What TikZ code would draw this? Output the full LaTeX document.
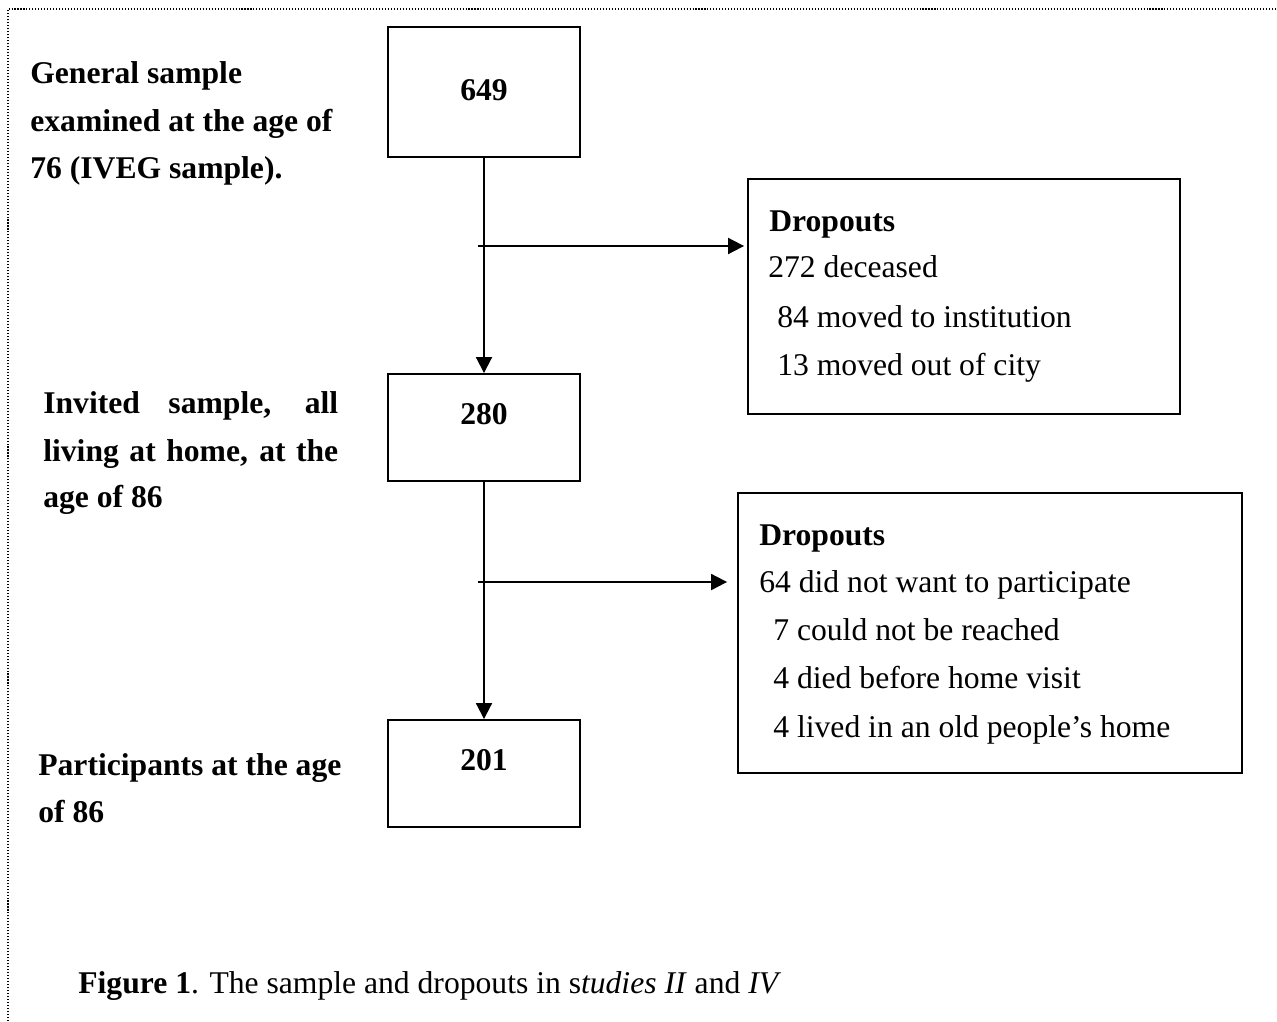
\documentclass[tikz,border=0pt]{standalone}
\usepackage{fontspec}
\setmainfont{Liberation Serif}
\usetikzlibrary{arrows.meta}
\begin{document}
\begin{tikzpicture}[x=0.02cm,y=-0.02cm,
  box/.style={draw,line width=1.1pt,inner sep=0pt,rectangle},
  txt/.style={anchor=base west,inner sep=0pt,font=\fontsize{18}{27}\selectfont},
  btxt/.style={txt,font=\fontsize{18}{27}\selectfont\bfseries},
  num/.style={anchor=base,inner sep=0pt,font=\fontsize{18}{27}\selectfont\bfseries},
  flow/.style={line width=1.1pt,-{Triangle[length=0.32cm,width=0.32cm]}}]
\useasboundingbox (0,0) rectangle (1277,1021);
% dotted frame (top and left edges)
\draw[line width=0.6pt,dash pattern=on 0.6pt off 1.1pt,black] (8,1021) -- (8,9) -- (1277,9);

% main boxes
\node[box,minimum width=3.84cm,minimum height=2.6cm] (b649) at (484,92) {};
\node[box,minimum width=3.84cm,minimum height=2.14cm] (b280) at (484,427.5) {};
\node[box,minimum width=3.84cm,minimum height=2.14cm] (b201) at (484,773.5) {};
\node[box,minimum width=8.64cm,minimum height=4.7cm] (d1) at (964,296.5) {};
\node[box,minimum width=10.08cm,minimum height=5.6cm] (d2) at (990,633) {};

\node[num] (n649) at (484,100) {649};
\node[num] (n280) at (484,424) {280};
\node[num] (n201) at (484,770) {201};

% left labels
\node[btxt] (g1) at (30,83) {General sample};
\node[btxt] (g2) at (30,131) {examined at the age of};
\node[btxt] (g3) at (30,178) {76 (IVEG sample).};
\node[btxt] (i1) at (43,413) {\makebox[5.9cm][s]{Invited sample, all}};
\node[btxt] (i2) at (43,461) {\makebox[5.9cm][s]{living at home, at the}};
\node[btxt] (i3) at (43,507) {age of 86};
\node[btxt] (p1) at (38,775) {Participants at the age};
\node[btxt] (p2) at (38,822) {of 86};

% dropouts text
\node[btxt] (d1h) at (769,231) {Dropouts};
\node[txt] (d1a) at (768,277) {272 deceased};
\node[txt] (d1b) at (777,327) {84 moved to institution};
\node[txt] (d1c) at (777,375) {13 moved out of city};
\node[btxt] (d2h) at (759,545) {Dropouts};
\node[txt] (d2a) at (759,592) {64 did not want to participate};
\node[txt] (d2b) at (773,640) {7 could not be reached};
\node[txt] (d2c) at (773,688) {4 died before home visit};
\node[txt] (d2d) at (773,737) {4 lived in an old people’s home};

% caption
\node[txt] (cap) at (78,993) {\textbf{Figure 1}. The sample and dropouts in s\textit{tudies II} and \textit{IV}};

% connectors
\draw[flow] (b649.south) -- (b280.north);
\draw[flow] (b280.south) -- (b201.north);
\coordinate (s1) at (478,246);
\coordinate (s2) at (478,582);
\draw[flow] (s1) -- ([xshift=-0.06cm]s1 -| d1.west);
\draw[flow] (s2) -- ([xshift=-0.2cm]s2 -| d2.west);
\end{tikzpicture}
\end{document}
